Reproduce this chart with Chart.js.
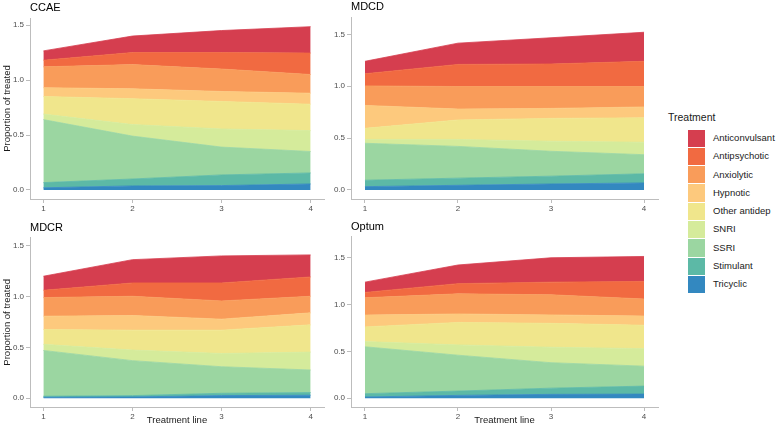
<!DOCTYPE html>
<html>
<head>
<meta charset="utf-8">
<script src="https://cdn.jsdelivr.net/npm/chart.js"></script>
<style>
  body { margin: 0; background: #fff; font-family: "Liberation Sans", Arial, sans-serif; }
  #wrap { position: relative; width: 778px; height: 432px; overflow: hidden; }
  .panel { position: absolute; }
  #legend { position: absolute; left: 668px; top: 111px; color: #1a1a1a; }
  #legend .ttl { font-size: 10.5px; margin-bottom: 6px; }
  #legend .row { position: relative; height: 18.3px; }
  #legend .key { position: absolute; left: 20px; top: 0.5px; width: 17px; height: 17.3px; }
  #legend .lbl { position: absolute; left: 45px; top: 0; line-height: 18.3px; font-size: 9.5px; white-space: nowrap; }
</style>
</head>
<body>
<div id="wrap">
  <div id="legend"><div class="ttl">Treatment</div></div>
</div>
<script>
// x positions on the treatment-line axis
const treatmentLines = [1, 2, 3, 4];
const xTicks = [1, 2, 3, 4];
const yTicks = [0, 0.5, 1.0, 1.5];

// legend order, top to bottom (stacked the other way round)
const treatments = ['Anticonvulsant', 'Antipsychotic', 'Anxiolytic', 'Hypnotic', 'Other antidep', 'SNRI', 'SSRI', 'Stimulant', 'Tricyclic'];
const treatmentColors = ['#d53e4f', '#f16a41', '#f99c5a', '#fdc97d', '#f0e68c', '#d5eb9b', '#9bd6a1', '#5cb9a6', '#3388c0'];

// proportion of treated, one row per treatment (legend order), one value per line
const ccaeValues = [
    [0.085, 0.150, 0.200, 0.240],
    [0.060, 0.110, 0.150, 0.195],
    [0.190, 0.220, 0.204, 0.170],
    [0.080, 0.090, 0.091, 0.100],
    [0.160, 0.235, 0.250, 0.240],
    [0.050, 0.105, 0.165, 0.190],
    [0.573, 0.390, 0.253, 0.195],
    [0.047, 0.063, 0.097, 0.100],
    [0.020, 0.037, 0.040, 0.055]
];
const mdcdValues = [
    [0.120, 0.205, 0.253, 0.280],
    [0.117, 0.213, 0.217, 0.243],
    [0.188, 0.217, 0.211, 0.197],
    [0.221, 0.105, 0.096, 0.105],
    [0.107, 0.188, 0.220, 0.235],
    [0.037, 0.067, 0.097, 0.120],
    [0.356, 0.306, 0.240, 0.184],
    [0.062, 0.069, 0.075, 0.088],
    [0.032, 0.045, 0.058, 0.068]
];
const mdcrValues = [
    [0.138, 0.229, 0.266, 0.217],
    [0.072, 0.131, 0.177, 0.190],
    [0.183, 0.189, 0.179, 0.163],
    [0.131, 0.144, 0.108, 0.118],
    [0.146, 0.196, 0.230, 0.268],
    [0.060, 0.104, 0.130, 0.176],
    [0.450, 0.344, 0.261, 0.222],
    [0.010, 0.013, 0.023, 0.026],
    [0.010, 0.013, 0.026, 0.030]
];
const optumValues = [
    [0.110, 0.199, 0.260, 0.266],
    [0.057, 0.109, 0.135, 0.188],
    [0.185, 0.215, 0.215, 0.182],
    [0.126, 0.090, 0.090, 0.098],
    [0.157, 0.240, 0.255, 0.250],
    [0.055, 0.110, 0.165, 0.187],
    [0.501, 0.383, 0.272, 0.213],
    [0.035, 0.046, 0.066, 0.085],
    [0.014, 0.031, 0.042, 0.045]
];

const FONT = '"Liberation Sans", Arial, sans-serif';
const AXIS_GREY = '#bdbdbd';

// where each facet sits on the page
const panels = [
    { title: 'CCAE',  values: ccaeValues,  left: 0,   top: 0,   width: 330, height: 215, yMin: -0.082, yMax: 1.564, axisW: 30, padTop: 18,   xAxisH: 16, yTitle: true,  xTitle: false },
    { title: 'MDCD',  values: mdcdValues,  left: 330, top: 0,   width: 334, height: 215, yMin: -0.087, yMax: 1.667, axisW: 21, padTop: 17,   xAxisH: 16, yTitle: false, xTitle: false },
    { title: 'MDCR',  values: mdcrValues,  left: 0,   top: 215, width: 330, height: 217, yMin: -0.086, yMax: 1.579, axisW: 30, padTop: 22.7, xAxisH: 25, yTitle: true,  xTitle: true },
    { title: 'Optum', values: optumValues, left: 330, top: 215, width: 334, height: 217, yMin: -0.093, yMax: 1.725, axisW: 21, padTop: 21.7, xAxisH: 25, yTitle: false, xTitle: true }
];

// draws the facet title just above the plot area
const panelTitle = {
    id: 'panelTitle',
    afterDraw(chart, args, opts) {
        const ctx = chart.ctx;
        ctx.save();
        ctx.font = '11px ' + FONT;
        ctx.fillStyle = '#000';
        ctx.textAlign = 'left';
        ctx.textBaseline = 'alphabetic';
        ctx.fillText(opts.text, chart.chartArea.left, chart.chartArea.top - 7);
        ctx.restore();
    }
};

const wrap = document.getElementById('wrap');

panels.forEach(p => {
    const div = document.createElement('div');
    div.className = 'panel';
    div.style.left = p.left + 'px';
    div.style.top = p.top + 'px';
    div.style.width = p.width + 'px';
    div.style.height = p.height + 'px';
    const canvas = document.createElement('canvas');
    div.appendChild(canvas);
    wrap.appendChild(div);

    // bottom layer first
    const datasets = [];
    for (let i = treatments.length - 1; i >= 0; i--) {
        datasets.push({
            label: treatments[i],
            data: treatmentLines.map((x, j) => ({ x: x, y: p.values[i][j] })),
            backgroundColor: treatmentColors[i],
            borderColor: treatmentColors[i],
            borderWidth: 0.8,
            pointRadius: 0,
            tension: 0,
            fill: datasets.length === 0 ? 'origin' : '-1'
        });
    }

    new Chart(canvas, {
        type: 'line',
        data: { datasets: datasets },
        plugins: [panelTitle],
        options: {
            responsive: true,
            maintainAspectRatio: false,
            animation: false,
            events: [],
            layout: { padding: { top: p.padTop, right: 6, left: 0, bottom: 0 } },
            plugins: {
                legend: { display: false },
                tooltip: { enabled: false },
                panelTitle: { text: p.title }
            },
            scales: {
                x: {
                    type: 'linear',
                    min: 0.85,
                    max: 4.15,
                    afterBuildTicks: s => { s.ticks = xTicks.map(v => ({ value: v })); },
                    afterFit: s => { s.height = p.xAxisH; },
                    grid: { drawOnChartArea: false, drawTicks: true, tickLength: 4, tickColor: AXIS_GREY },
                    border: { display: true, color: AXIS_GREY, width: 1 },
                    ticks: { color: '#4d4d4d', font: { family: FONT, size: 8 }, padding: 1, maxRotation: 0 },
                    title: {
                        display: p.xTitle,
                        text: 'Treatment line',
                        color: '#1a1a1a',
                        font: { family: FONT, size: 9.5 },
                        padding: { top: 0, bottom: 6 }
                    }
                },
                y: {
                    stacked: true,
                    min: p.yMin,
                    max: p.yMax,
                    afterBuildTicks: s => { s.ticks = yTicks.map(v => ({ value: v })); },
                    afterFit: s => { s.width = p.axisW; },
                    grid: { drawOnChartArea: false, drawTicks: true, tickLength: 4, tickColor: AXIS_GREY },
                    border: { display: true, color: AXIS_GREY, width: 1 },
                    ticks: { color: '#4d4d4d', font: { family: FONT, size: 8 }, padding: 2, callback: v => v.toFixed(1) },
                    title: {
                        display: p.yTitle,
                        text: 'Proportion of treated',
                        color: '#1a1a1a',
                        font: { family: FONT, size: 9.5 },
                        padding: { top: 2, bottom: 0 }
                    }
                }
            }
        }
    });
});

// shared legend on the right
const legend = document.getElementById('legend');
treatments.forEach((name, i) => {
    const row = document.createElement('div');
    row.className = 'row';
    const key = document.createElement('span');
    key.className = 'key';
    key.style.background = treatmentColors[i];
    const lbl = document.createElement('span');
    lbl.className = 'lbl';
    lbl.textContent = name;
    row.appendChild(key);
    row.appendChild(lbl);
    legend.appendChild(row);
});
</script>
</body>
</html>
